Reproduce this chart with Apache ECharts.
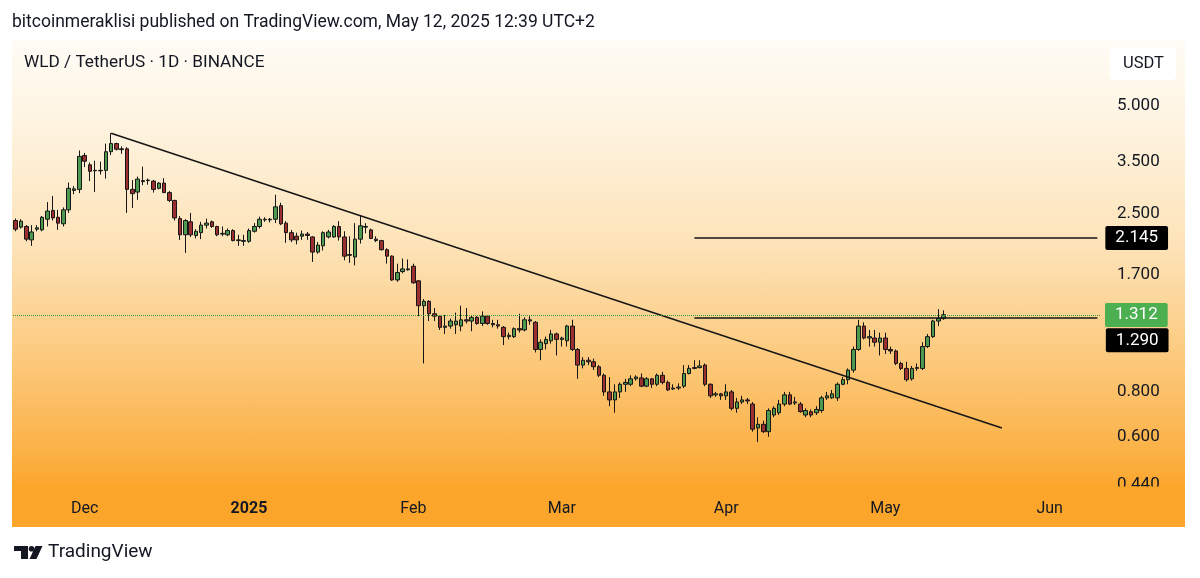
<!DOCTYPE html>
<html>
<head>
<meta charset="utf-8">
<script src="https://cdn.jsdelivr.net/npm/echarts@6/dist/echarts.min.js"></script>
<style>
  html, body { margin: 0; padding: 0; background: #ffffff; }
  #wrap { position: relative; width: 1200px; height: 578px; overflow: hidden; }
  #bg { position: absolute; left: 12px; top: 40px; width: 1173px; height: 487px;
        background: linear-gradient(180deg, #fffcf6 0%, #fef3df 18%, #fde3b8 42%, #fccb80 64%, #fbb248 84%, #fba62c 92%, #fba52a 100%); }
  #chart { position: absolute; left: 0; top: 0; width: 1200px; height: 578px; }
</style>
</head>
<body>
<div id="wrap">
  <div id="bg"></div>
  <div id="chart"></div>
</div>
<script>
// ---- data (WLD/USDT daily) ----
const startDate = '2024-11-18';
const totalDays = 205; // category slots up to ~Jun 10 2025

const opens = [2.40,2.30,2.31,2.12,2.27,2.26,2.42,2.56,2.45,2.35,
 2.57,2.91,2.93,3.64,3.43,3.30,3.31,3.31,3.73,3.93,
 3.80,3.80,2.93,2.88,3.10,3.10,3.09,2.95,3.05,2.87,
 2.73,2.43,2.19,2.38,2.18,2.22,2.33,2.38,2.31,2.21,
 2.19,2.25,2.11,2.10,2.10,2.24,2.31,2.41,2.42,2.42,
 2.64,2.36,2.22,2.17,2.17,2.20,2.16,1.96,2.04,2.16,
 2.16,2.31,2.16,1.92,1.90,2.13,2.30,2.26,2.13,2.11,
 1.99,1.91,1.64,1.73,1.76,1.79,1.63,1.39,1.43,1.32,
 1.30,1.21,1.22,1.23,1.22,1.27,1.26,1.29,1.24,1.30,
 1.24,1.23,1.21,1.14,1.14,1.20,1.19,1.27,1.25,1.05,
 1.09,1.11,1.16,1.12,1.11,1.22,1.05,0.95,0.98,0.97,
 0.94,0.89,0.80,0.76,0.80,0.84,0.84,0.87,0.875,0.83,
 0.87,0.84,0.89,0.85,0.815,0.82,0.83,0.90,0.93,0.935,
 0.95,0.84,0.785,0.79,0.78,0.80,0.72,0.75,0.76,0.74,
 0.635,0.65,0.62,0.69,0.70,0.74,0.785,0.745,0.74,0.69,
 0.705,0.70,0.71,0.77,0.77,0.77,0.84,0.865,0.92,1.05,
 1.22,1.13,1.13,1.10,1.13,1.05,1.04,0.96,0.93,0.87,
 0.93,0.93,1.07,1.14,1.26,1.28];

const closes = [2.27,2.39,2.13,2.23,2.29,2.45,2.55,2.44,2.36,2.57,
 2.95,2.94,3.62,3.51,3.29,3.31,3.30,3.73,3.93,3.79,
 3.78,2.93,2.85,3.13,3.08,3.11,2.93,3.05,2.87,2.73,
 2.44,2.19,2.40,2.19,2.24,2.33,2.36,2.31,2.19,2.20,
 2.25,2.11,2.12,2.11,2.25,2.31,2.42,2.42,2.41,2.62,
 2.35,2.22,2.12,2.12,2.20,2.18,1.96,2.05,2.22,2.23,
 2.31,2.16,1.91,1.93,2.13,2.32,2.31,2.14,2.11,1.99,
 1.91,1.64,1.72,1.76,1.75,1.61,1.39,1.43,1.32,1.30,
 1.21,1.22,1.26,1.26,1.27,1.26,1.29,1.24,1.30,1.24,
 1.23,1.22,1.14,1.15,1.20,1.19,1.27,1.26,1.05,1.10,
 1.12,1.16,1.12,1.13,1.22,1.05,0.95,0.98,0.97,0.94,
 0.89,0.80,0.76,0.80,0.84,0.85,0.87,0.88,0.83,0.87,
 0.84,0.89,0.85,0.81,0.82,0.825,0.90,0.93,0.935,0.945,
 0.84,0.78,0.79,0.78,0.80,0.72,0.75,0.76,0.755,0.63,
 0.65,0.62,0.71,0.72,0.74,0.785,0.74,0.75,0.705,0.71,
 0.69,0.715,0.77,0.78,0.79,0.84,0.865,0.92,1.05,1.22,
 1.13,1.14,1.10,1.13,1.05,1.04,0.96,0.93,0.865,0.93,
 0.935,1.07,1.14,1.26,1.28,1.312];

const lows = [2.24,2.28,2.10,2.04,2.24,2.24,2.31,2.40,2.26,2.31,
 2.52,2.84,2.86,3.38,3.09,2.88,3.22,3.14,3.65,3.76,
 3.68,2.52,2.60,2.74,3.01,3.02,2.87,2.93,2.86,2.70,
 2.40,2.12,1.95,2.16,2.14,2.13,2.28,2.29,2.17,2.17,
 2.17,2.10,2.04,2.04,2.08,2.22,2.28,2.38,2.37,2.36,
 2.33,2.08,2.09,2.06,2.12,2.12,1.84,1.94,1.98,2.14,
 2.15,2.11,1.86,1.83,1.80,2.07,2.21,2.13,2.09,1.98,
 1.82,1.63,1.62,1.71,1.74,1.60,1.30,0.96,1.26,1.26,
 1.19,1.16,1.20,1.16,1.18,1.24,1.18,1.23,1.22,1.23,
 1.21,1.20,1.08,1.12,1.13,1.17,1.18,1.23,1.03,0.98,
 1.05,1.09,1.01,1.07,1.07,1.04,0.87,0.93,0.95,0.92,
 0.88,0.78,0.73,0.70,0.77,0.80,0.83,0.86,0.825,0.825,
 0.82,0.83,0.84,0.805,0.81,0.81,0.82,0.895,0.925,0.93,
 0.83,0.77,0.775,0.76,0.76,0.71,0.70,0.74,0.74,0.62,
 0.58,0.615,0.60,0.68,0.69,0.73,0.735,0.735,0.70,0.68,
 0.68,0.69,0.70,0.76,0.765,0.755,0.835,0.84,0.905,1.04,
 1.12,1.07,1.07,1.01,1.02,1.02,0.95,0.92,0.855,0.86,
 0.915,0.92,1.06,1.13,1.22,1.27];

const highs = [2.43,2.42,2.33,2.33,2.33,2.47,2.70,2.81,2.57,2.61,
 3.06,2.99,3.76,3.70,3.48,3.52,3.50,3.93,4.20,3.95,
 3.86,3.84,3.11,3.18,3.39,3.14,3.11,3.07,3.15,2.90,
 2.74,2.47,2.42,2.52,2.27,2.38,2.43,2.40,2.32,2.31,
 2.28,2.27,2.19,2.19,2.28,2.36,2.46,2.45,2.44,2.83,
 2.69,2.39,2.26,2.22,2.25,2.23,2.17,2.09,2.24,2.26,
 2.33,2.39,2.24,2.17,2.36,2.47,2.36,2.28,2.17,2.12,
 2.01,1.92,1.82,1.88,1.87,1.82,1.64,1.45,1.44,1.37,
 1.31,1.31,1.28,1.33,1.39,1.37,1.31,1.30,1.34,1.31,
 1.27,1.27,1.22,1.17,1.21,1.32,1.29,1.30,1.26,1.12,
 1.14,1.19,1.17,1.14,1.23,1.27,1.06,1.00,1.00,0.99,
 0.95,0.90,0.88,0.84,0.85,0.87,0.89,0.89,0.90,0.88,
 0.875,0.90,0.91,0.86,0.84,0.845,0.95,0.95,0.98,0.98,
 0.96,0.845,0.80,0.795,0.84,0.81,0.77,0.78,0.77,0.75,
 0.68,0.665,0.72,0.73,0.76,0.80,0.80,0.775,0.75,0.72,
 0.715,0.73,0.78,0.80,0.81,0.85,0.88,0.93,1.07,1.27,
 1.25,1.19,1.19,1.17,1.17,1.07,1.05,0.97,0.97,0.945,
 0.96,1.10,1.16,1.27,1.36,1.35];

const priceTicks = [0.44, 0.6, 0.8, 1.7, 2.5, 3.5, 5];
const monthNames = {'01':'2025','02':'Feb','03':'Mar','04':'Apr','05':'May','06':'Jun','12':'Dec'};

// drawn levels
const trendStart = ['2024-12-06', 4.20];
const trendEnd = ['2025-05-23', 0.635];
const levelStartDate = '2025-03-26';
const upperLevel = 2.145;
const lowerLevel = 1.290;
const lastPrice = 1.312;

// ---- build ----
const dates = [];
(function () {
  const t0 = Date.parse(startDate + 'T00:00:00Z');
  for (let i = 0; i < totalDays; i++) {
    dates.push(new Date(t0 + i * 86400000).toISOString().slice(0, 10));
  }
})();
const candles = opens.map((o, i) => [o, closes[i], lows[i], highs[i]]);
const lastDate = dates[dates.length - 1];

const FONT = 'Roboto, "Noto Sans", sans-serif';
const boxLabel = (txt, bg, dist) => ({
  show: true, position: 'end', formatter: txt, distance: dist,
  backgroundColor: bg, color: '#ffffff', fontSize: 17, fontFamily: FONT,
  padding: [4, 10, 3, 10], borderRadius: 2
});

const chart = echarts.init(document.getElementById('chart'), null, { renderer: 'canvas' });
chart.setOption({
  animation: false,
  backgroundColor: 'transparent',
  textStyle: { fontFamily: FONT },
  title: [
    { text: 'bitcoinmeraklisi published on TradingView.com, May 12, 2025 12:39 UTC+2',
      left: 7, top: 9, textStyle: { fontSize: 17.5, fontWeight: 'normal', color: '#131722', fontFamily: FONT } },
    { text: 'WLD / TetherUS · 1D · BINANCE',
      left: 19, top: 49, textStyle: { fontSize: 17.2, fontWeight: 'normal', color: '#131722', fontFamily: FONT } },
    { text: 'USDT', left: 1110, top: 47, backgroundColor: '#ffffff', borderRadius: 4, padding: [8, 12, 8, 13],
      textStyle: { fontSize: 16.5, fontWeight: 'normal', color: '#131722', fontFamily: FONT } },
    { text: 'TradingView', left: 43, top: 538,
      textStyle: { fontSize: 19, fontWeight: 'normal', color: '#131722', fontFamily: FONT } }
  ],
  graphic: [
    { type: 'rect', left: 12, top: 486.5, z: 50, silent: true,
      shape: { width: 1173, height: 40.5 }, style: { fill: '#fba62b' } },
    { type: 'group', left: 14, top: 546, z: 60, children: [
      { type: 'rect', shape: { x: 0, y: 0, width: 14, height: 5 }, style: { fill: '#131722' } },
      { type: 'rect', shape: { x: 7, y: 0, width: 7, height: 13 }, style: { fill: '#131722' } },
      { type: 'circle', shape: { cx: 17.5, cy: 2.8, r: 2.8 }, style: { fill: '#131722' } },
      { type: 'polygon', shape: { points: [[21.5, 0], [28.5, 0], [22.5, 13], [15.5, 13]] }, style: { fill: '#131722' } }
    ]}
  ],
  grid: { left: 13, right: 100, top: 40, bottom: 90, containLabel: false },
  xAxis: {
    type: 'category', data: dates, boundaryGap: true, z: 100,
    axisLine: { show: false }, axisTick: { show: false }, splitLine: { show: false },
    axisLabel: {
      margin: 13, fontSize: 16, color: '#131722', fontFamily: FONT,
      interval: (idx, val) => val.slice(8) === '01',
      formatter: (val) => {
        const m = val.slice(5, 7);
        return m === '01' ? '{b|' + monthNames[m] + '}' : monthNames[m];
      },
      rich: { b: { fontWeight: 'bold', fontSize: 16, color: '#131722', fontFamily: FONT } }
    }
  },
  yAxis: {
    type: 'log', position: 'right', min: 0.4321, max: 7.633, logBase: 10,
    axisLine: { show: false }, axisTick: { show: false }, splitLine: { show: false },
    axisLabel: {
      margin: 17, fontSize: 17, color: '#131722', fontFamily: FONT,
      padding: [5, 0, 0, 0],
      customValues: priceTicks,
      formatter: (v) => Number(v).toFixed(3)
    }
  },
  series: [{
    type: 'candlestick',
    data: candles,
    barWidth: 4,
    itemStyle: {
      color: '#4c9a4f', color0: '#9b2f30',
      borderColor: '#161616', borderColor0: '#161616', borderWidth: 1
    },
    markLine: {
      silent: true, symbol: ['none', 'none'], animation: false,
      data: [
        [ { coord: trendStart, lineStyle: { color: '#161616', width: 1.6, type: 'solid' }, label: { show: false } },
          { coord: trendEnd } ],
        [ { coord: [levelStartDate, upperLevel], lineStyle: { color: '#161616', width: 1.5, type: 'solid' },
            label: boxLabel('2.145', '#000000', 8) },
          { coord: [lastDate, upperLevel] } ],
        [ { coord: [levelStartDate, lowerLevel], lineStyle: { color: '#161616', width: 1.5, type: 'solid' },
            label: { show: false } },
          { coord: [lastDate, lowerLevel] } ],
        { yAxis: lastPrice, lineStyle: { color: '#3f9a45', width: 1, type: 'dotted' },
          label: boxLabel('1.312', '#4caf50', 5) }
      ]
    },
    markPoint: {
      silent: true, animation: false,
      data: [{
        coord: [lastDate, lowerLevel], symbol: 'rect', symbolSize: 1,
        itemStyle: { color: 'rgba(0,0,0,0)' },
        label: {
          show: true, position: 'right', distance: 8, offset: [0, 23], formatter: '1.290',
          backgroundColor: '#000000', color: '#ffffff', fontSize: 17, fontFamily: FONT,
          padding: [4, 10, 3, 10], borderRadius: 2
        }
      }]
    }
  }]
});
</script>
</body>
</html>
